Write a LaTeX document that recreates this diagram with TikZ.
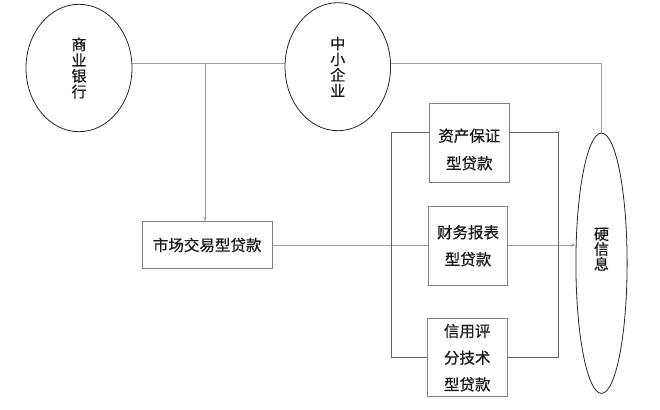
\documentclass[tikz,border=0pt]{standalone}
\usepackage{fontspec}
\newfontfamily\cjk[FakeBold=0.6]{Noto Sans CJK SC}
\usetikzlibrary{shapes.geometric,arrows.meta}
\begin{document}
\begin{tikzpicture}[x=1pt,y=-1pt,
  ell/.style={draw=black!85, line width=0.8pt, ellipse, inner sep=0pt, text=black!90,
    align=center, font=\cjk\fontsize{15}{15.7}\selectfont},
  loanbox/.style={draw=black!50, line width=0.7pt, fill=white, inner sep=0pt, text=black!90,
    align=center, font=\cjk\fontsize{15.5}{27}\selectfont},
  txt/.style={inner sep=0pt, text=black!90, align=center},
  conn/.style={draw=black!38, line width=0.7pt},
  arr/.style={conn, -{Stealth[length=4.5pt,width=3.5pt]}},
  brk/.style={draw=black!60, line width=0.7pt}
]
\useasboundingbox (0,0) rectangle (660,409);

% ellipses
\node[ell, minimum width=106, minimum height=127.4] (bank) at (79,68) {商\\业\\银\\行};
\node[ell, minimum width=105.6, minimum height=128] (sme) at (337.8,66.7) {中\\小\\企\\业};
\node[ell, minimum width=51.2, minimum height=260.3] (hard) at (601.5,263.2) {};
\node[txt, font=\cjk\fontsize{15}{15}\selectfont] (hardt) at (601.5,249.2) {硬\\信\\息};

% boxes
\node[loanbox, minimum width=130.5, minimum height=47] (market) at (207.2,245) {市场交易型贷款};
\node[loanbox, minimum width=80, minimum height=79.4] (b1) at (469.3,143) {};
\node[txt, font=\cjk\fontsize{15.5}{27.6}\selectfont] (b1t) at (469.3,149.5) {资产保证\\型贷款};
\node[loanbox, minimum width=79.4, minimum height=78.3] (b2) at (468,245.8) {财务报表\\型贷款};
\node[loanbox, minimum width=79.7, minimum height=78, font=\cjk\fontsize{15.5}{26.7}\selectfont] (b3) at (467.2,357.7) {信用评\\分技术\\型贷款};

% junction coordinates
\coordinate (j) at (205,63.3);
\coordinate (tl) at (391,132.3);
\coordinate (bl) at (391,357.7);
\coordinate (tr) at (558,132.3);
\coordinate (br) at (558,357.7);

% top line
\draw[conn] (bank.east |- j) -- (sme.west |- j);
\draw[conn] (sme.east |- j) -- (hard.north |- j) -- (hard.north);
\draw[arr] (j) -- (j |- market.north);

% middle line
\draw[conn] (market.east) -- (b2.west |- market.east);
\draw[arr] (b2.east |- market.east) -- (hard.west |- market.east);

% brackets
\draw[brk] (b1.west |- tl) -- (tl) -- (bl) -- (b3.west |- bl);
\draw[brk] (b1.east |- tr) -- (tr) -- (br) -- (b3.east |- br);
\end{tikzpicture}
\end{document}
